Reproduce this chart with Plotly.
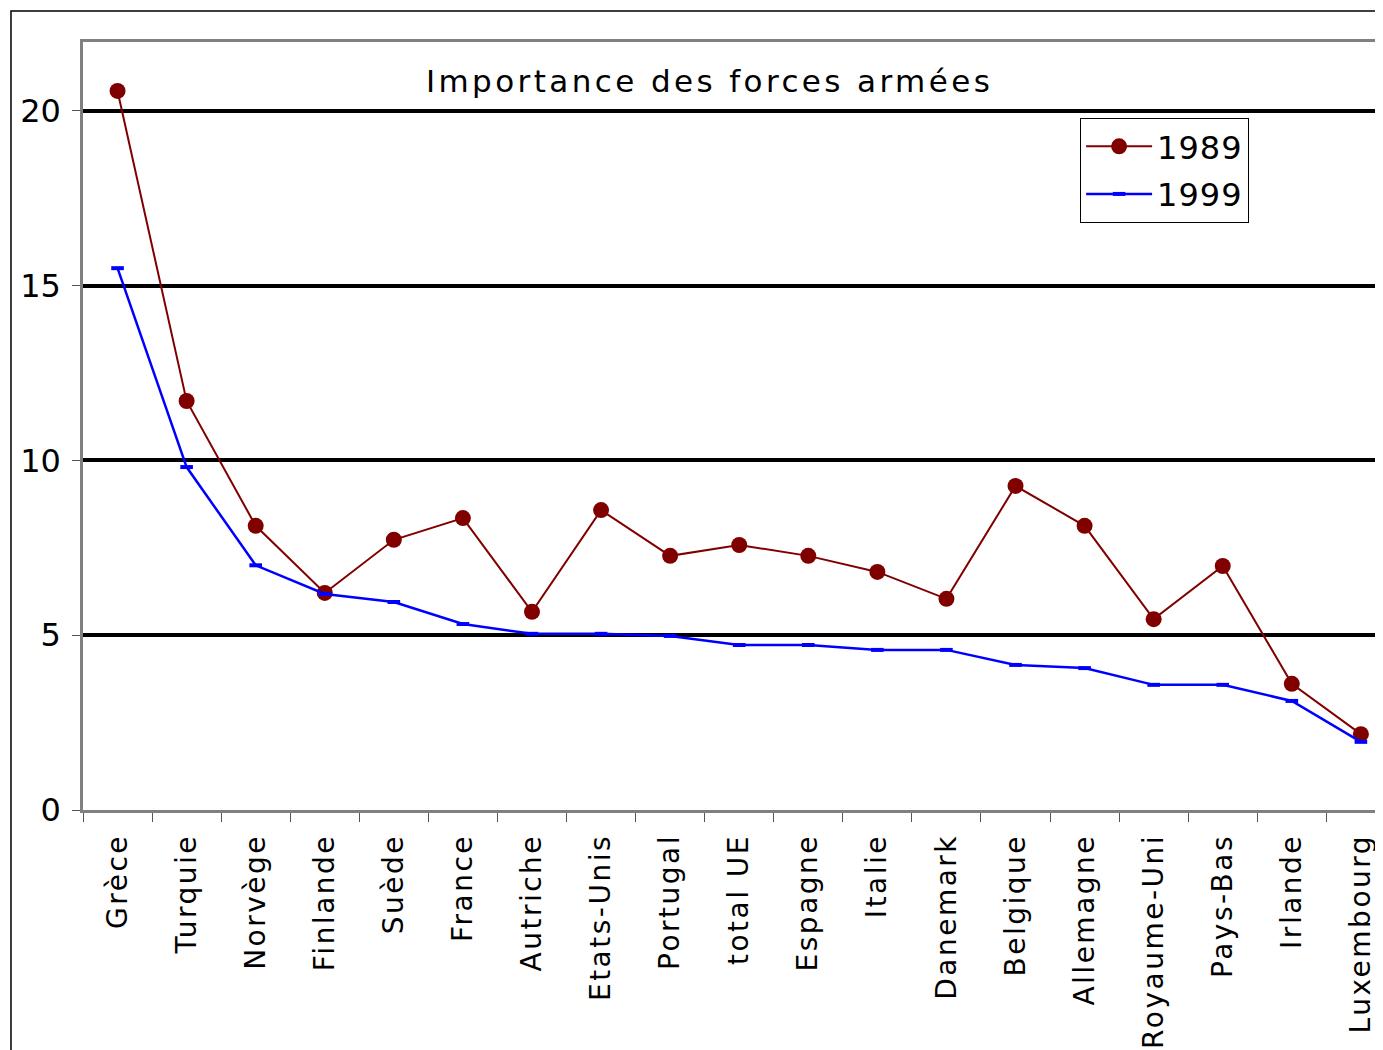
import plotly.graph_objects as go

######################################
# Data
######################################

pays = ["Grèce", "Turquie", "Norvège", "Finlande", "Suède", "France", "Autriche",
        "Etats-Unis", "Portugal", "total UE", "Espagne", "Italie", "Danemark",
        "Belgique", "Allemagne", "Royaume-Uni", "Pays-Bas", "Irlande", "Luxembourg"]

val_1989 = [20.57, 11.70, 8.13, 6.21, 7.73, 8.35, 5.67, 8.58, 7.27, 7.58,
            7.27, 6.81, 6.04, 9.27, 8.13, 5.46, 6.98, 3.61, 2.17]

val_1999 = [15.5, 9.81, 7.0, 6.18, 5.95, 5.32, 5.04, 5.04, 4.98, 4.72,
            4.72, 4.58, 4.58, 4.15, 4.06, 3.58, 3.58, 3.12, 1.95]

y_ticks = [0, 5, 10, 15, 20]

######################################
# Figure
######################################

FONT = "DejaVu Sans"


def spaced(txt, px):
    # the original uses a wide bitmap font: mimic it with letter spacing
    return '<span style="letter-spacing:%spx">%s</span>' % (px, txt)


fig = go.Figure()

fig.add_trace(go.Scatter(
    x=pays, y=val_1989, name=spaced("1989", 1), mode="lines+markers",
    legendgroup="a",
    line=dict(color="#800000", width=2),
    marker=dict(symbol="circle", size=16, color="#800000"),
    cliponaxis=False,
))

fig.add_trace(go.Scatter(
    x=pays, y=val_1999, name=spaced("1999", 1), mode="lines+markers",
    legendgroup="b",
    line=dict(color="#0000FF", width=2.5),
    marker=dict(symbol="line-ew", size=9, color="#0000FF",
                line=dict(color="#0000FF", width=4)),
    cliponaxis=False,
))

# outer chart frame (right and bottom run out of the page)
fig.add_shape(type="rect", xref="paper", yref="paper",
              x0=-0.0554, x1=1.2, y0=-0.4, y1=1.0404,
              line=dict(color="black", width=1.5), layer="below")

fig.update_layout(
    width=1375, height=1042,
    margin=dict(l=75, r=0, t=34, b=240),
    plot_bgcolor="white", paper_bgcolor="white",
    font=dict(family=FONT, color="black"),
    title=dict(text=spaced("Importance des forces armées", 3.4),
               font=dict(size=31, family=FONT),
               xref="paper", x=0.482, xanchor="center",
               yref="container", y=1 - 73 / 1042, yanchor="middle"),
    legend=dict(x=0.767, y=0.901, xanchor="left", yanchor="top",
                bordercolor="black", borderwidth=1, bgcolor="white",
                font=dict(size=32, family=FONT), itemwidth=66,
                traceorder="grouped", tracegroupgap=3),
    xaxis=dict(
        type="category", range=[-0.5, 18.32],
        tickmode="array", tickvals=pays, ticktext=[spaced(p, 2.5) for p in pays],
        tickson="boundaries", ticks="outside", ticklen=9, tickcolor="#555555",
        tickangle=-90, tickfont=dict(size=28, family=FONT), ticklabelstandoff=10,
        showline=True, linecolor="#808080", linewidth=2.5, mirror=True,
        showgrid=False,
    ),
    yaxis=dict(
        range=[0, 21.97], tickvals=y_ticks,
        ticks="outside", ticklen=8, tickcolor="#555555",
        tickfont=dict(size=32, family=FONT), ticklabelstandoff=5,
        showline=True, linecolor="#808080", linewidth=2.5,
        showgrid=True, gridcolor="black", gridwidth=3.5,
        zeroline=False,
    ),
)

fig.write_html("out.html")
